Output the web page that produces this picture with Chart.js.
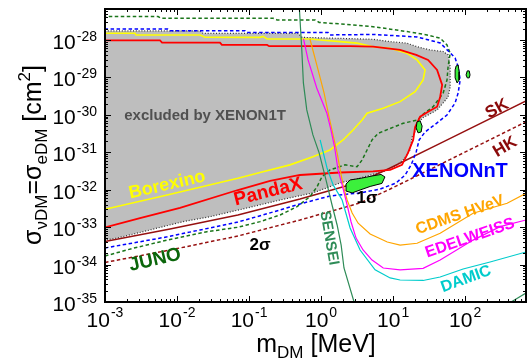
<!DOCTYPE html>
<html>
<head>
<meta charset="utf-8">
<script src="https://cdn.jsdelivr.net/npm/chart.js@4.4.0/dist/chart.umd.min.js"></script>
<style>
  html, body { margin: 0; padding: 0; background: #fff; }
  canvas { display: block; }
</style>
</head>
<body>
<canvas id="chart" width="529" height="359"></canvas>
<script>
let FONT = '"Liberation Sans", Arial, Helvetica, sans-serif';

let xMin = 1e-3, xMax = 700;
let yMin = 1e-35, yMax = 6.7e-28;
let xTickExps = [-3, -2, -1, 0, 1, 2];
let yTickExps = [-28, -29, -30, -31, -32, -33, -34, -35];

// m_DM in MeV, sigma in cm^2
let xenon1tM = [1e-3, 0.021, 0.023, 0.48, 0.545, 1.84, 5.3, 9.1, 15.6, 21.5, 32.7, 49.5, 58, 62, 62, 58, 49.5, 40.8, 30.6, 25.3, 22.2, 18.4, 17.2, 14.2, 11.4, 7.7, 3.5, 1.84, 0.77, 0.27, 0.094, 0.0287, 0.0121, 0.0042, 0.00147, 1e-3];
let xenon1tS = [1.74e-28, 1.74e-28, 1.49e-28, 1.49e-28, 1.17e-28, 1.10e-28, 1.04e-28, 9.0e-29, 8.2e-29, 6.6e-29, 5.4e-29, 4.9e-29, 4.0e-29, 1.9e-29, 5.5e-30, 3.0e-30, 2.07e-30, 1.35e-30, 9.9e-31, 8.2e-31, 5.0e-31, 2.56e-31, 1.15e-31, 6.6e-32, 4.6e-32, 3.16e-32, 2.06e-32, 1.51e-32, 8.2e-33, 5.3e-33, 3.25e-33, 1.9e-33, 1.4e-33, 8.4e-34, 5.1e-34, 4.5e-34];

let pandaxM = [1e-3, 3.06e-3, 1.1e-2, 0.07, 0.196, 0.51, 1.84, 5.27, 9.1, 13.3, 16.1, 19.0, 20.2, 23.7, 30.6, 40.8, 45, 48, 40.8, 30.6, 20.9, 12.5, 5.27, 2.53, 0.19, 0.178, 0.042, 0.0395, 0.0062, 0.0058, 1e-3];
let pandaxS = [9.8e-34, 1.75e-33, 3.25e-33, 9.8e-33, 1.71e-32, 2.47e-32, 2.88e-32, 3.07e-32, 3.37e-32, 4.6e-32, 9.6e-32, 2.13e-31, 4.7e-31, 8.9e-31, 1.21e-30, 1.65e-30, 3.0e-30, 6.3e-30, 1.58e-29, 2.92e-29, 4.0e-29, 5.4e-29, 6.6e-29, 6.8e-29, 6.8e-29, 7.35e-29, 7.35e-29, 8.5e-29, 8.5e-29, 9.7e-29, 9.7e-29];

let borexinoM = [1e-3, 7.3e-3, 0.07, 0.156, 0.37, 0.77, 1.33, 2.02, 2.78, 3.71, 4.35, 7.3, 12.5, 20.2, 26.1, 27.8, 21.5, 15.6, 9.1, 5.27, 3.16, 1.84, 0.97, 0.70, 0.178, 0.156, 0.142, 0.0245, 0.0209, 0.0027, 0.00261, 1e-3];
let borexinoS = [3.0e-33, 7.2e-33, 2.02e-32, 3.03e-32, 4.6e-32, 7.6e-32, 1.15e-31, 2.13e-31, 3.94e-31, 7.3e-31, 1.1e-30, 1.5e-30, 2.25e-30, 4.16e-30, 8.5e-30, 1.58e-29, 2.92e-29, 4.4e-29, 6.0e-29, 6.6e-29, 8.2e-29, 9.0e-29, 1.0e-28, 1.06e-28, 1.06e-28, 1.24e-28, 1.17e-28, 1.18e-28, 1.36e-28, 1.36e-28, 1.51e-28, 1.51e-28];

let junoM = [1e-3, 2.45e-3, 7.3e-3, 0.0261, 0.07, 0.142, 0.27, 0.464, 0.70, 0.88, 1.03, 1.33, 2.15, 3.16, 3.71, 4.35, 5.1, 6.2, 13.8, 22.2, 25.3, 36, 49.5, 56, 58, 62, 56, 45, 29.6, 15.6, 5.27, 1.84, 0.94, 0.83, 0.245, 0.215, 6.0e-3, 5.45e-3, 1e-3];
let junoS = [1.69e-34, 2.72e-34, 4.5e-34, 7.55e-34, 9.9e-34, 1.4e-33, 2.11e-33, 3.52e-33, 6.5e-33, 1.2e-32, 2.23e-32, 3.37e-32, 4.6e-32, 4.1e-32, 6.2e-32, 1.15e-31, 2.13e-31, 3.2e-31, 5.95e-31, 7.3e-31, 9.9e-31, 1.65e-30, 3.77e-30, 8.5e-30, 1.94e-29, 4.4e-29, 7.35e-29, 1.11e-28, 1.36e-28, 1.67e-28, 2.26e-28, 2.67e-28, 2.94e-28, 3.42e-28, 3.42e-28, 3.8e-28, 3.8e-28, 4.2e-28, 4.2e-28];

let xenonntM = [1e-3, 2.45e-3, 7.3e-3, 0.0209, 0.07, 0.156, 0.51, 1.33, 3.48, 6.6, 11.0, 14.7, 17.8, 20.9, 23, 27.8, 40.8, 56, 72.6, 80, 85.3, 80, 72.6, 62, 45, 21.5, 5.27, 1.33, 1.25, 0.094, 0.088, 8.0e-3, 7.5e-3, 1e-3];
let xenonntS = [2.77e-34, 3.77e-34, 5.5e-34, 8.4e-34, 1.37e-33, 2.11e-33, 4.15e-33, 6.8e-33, 8.2e-33, 1.04e-32, 1.51e-32, 2.47e-32, 4.6e-32, 1.02e-31, 2.13e-31, 3.48e-31, 6.1e-31, 9.9e-31, 2.07e-30, 3.84e-30, 8.5e-30, 1.9e-29, 3.3e-29, 4.5e-29, 8.3e-29, 1.2e-28, 1.4e-28, 1.36e-28, 1.57e-28, 1.57e-28, 1.77e-28, 1.77e-28, 1.97e-28, 1.97e-28];

let skM = [1e-3, 8.0e-3, 0.07, 0.51, 3.48, 9.1, 45, 700];
let skS = [4.1e-34, 8.9e-34, 2.11e-33, 5.65e-33, 1.61e-32, 3.8e-32, 1.72e-31, 2.35e-30];
let hkM = [1e-3, 8.0e-3, 0.07, 0.51, 3.48, 9.1, 45, 700];
let hkS = [1.14e-34, 2.45e-34, 5.8e-34, 1.55e-33, 4.42e-33, 1.04e-32, 4.72e-32, 6.5e-31];

let senseiM = [0.50, 0.54, 0.568, 0.633, 0.77, 0.94, 1.17, 1.42, 1.67, 1.90, 2.08, 2.87];
let senseiS = [6.7e-28, 5.4e-29, 7.1e-30, 1.35e-30, 2.9e-31, 9.6e-32, 1.82e-32, 3.9e-33, 1.14e-33, 3.3e-34, 8.1e-35, 1.0e-35];
let senseiHighM = [435, 700];
let senseiHighS = [1.0e-35, 1.74e-35];

let edelweissM = [0.57, 0.66, 0.87, 1.2, 1.38, 1.54, 1.72, 1.96, 2.3, 2.61, 3.06, 3.83, 5.1, 7.3, 12.5, 26.1, 45, 129, 306, 700];
let edelweissS = [1.06e-28, 2.92e-29, 5.2e-30, 1.12e-30, 3.7e-31, 1.38e-31, 3.37e-32, 1.34e-32, 3.9e-33, 1.37e-33, 5.1e-34, 2.45e-34, 1.32e-34, 8.1e-35, 7.2e-35, 7.9e-35, 1.32e-34, 4.5e-34, 1.03e-33, 1.55e-33];

let cdmsM = [0.70, 0.85, 1.1, 1.29, 1.52, 1.67, 1.84, 2.02, 2.3, 2.7, 3.27, 4.8, 8.3, 12.5, 21.5, 45, 129, 383, 700];
let cdmsS = [1.06e-28, 2.58e-29, 3.84e-30, 8.8e-31, 2.13e-31, 9.6e-32, 3.37e-32, 1.34e-32, 5.3e-33, 2.39e-33, 1.27e-33, 6.56e-34, 4.0e-34, 3.3e-34, 3.7e-34, 6.85e-34, 2.34e-33, 4.34e-33, 8.0e-33];

let damicM = [0.97, 1.21, 1.47, 1.96, 2.53, 3.48, 5.62, 9.1, 12.5, 26.1, 45, 93.8, 222, 700];
let damicS = [2.13e-31, 3.8e-32, 1.34e-32, 5.3e-33, 9.5e-34, 2.45e-34, 7.2e-35, 4.4e-35, 3.87e-35, 3.76e-35, 4.66e-35, 7.6e-35, 1.17e-34, 2.17e-34];

// 1 sigma islands
let blobAM = [2.22, 2.53, 3.48, 5.1, 6.8, 7.7, 7.0, 4.8, 3.48, 2.7, 2.22];
let blobAS = [1.42e-32, 1.82e-32, 2.0e-32, 2.32e-32, 2.55e-32, 2.19e-32, 1.47e-32, 1.22e-32, 9.8e-33, 8.2e-33, 9.2e-33];
let blobBM = [21.5, 23.7, 25.3, 24.5, 22.2, 20.9];
let blobBS = [6.5e-31, 6.9e-31, 5.0e-31, 3.48e-31, 3.3e-31, 4.46e-31];
let blobCM = [75, 80, 82.6, 82.6, 77.4, 72.6, 72.6];
let blobCS = [2.02e-29, 2.15e-29, 1.4e-29, 8.5e-30, 7.1e-30, 9.7e-30, 1.58e-29];
let blobDM = [107, 114, 117, 114, 107, 103];
let blobDS = [1.49e-29, 1.49e-29, 1.16e-29, 9.7e-30, 9.7e-30, 1.16e-29];

// text labels placed in data coordinates
let notes = [
    {text: 'excluded by XENON1T', m: 0.0245, s: 9.3e-31, color: '#505050', size: 15, rot: 0},
    {text: 'Borexino', m: 7.3e-3, s: 1.34e-32, color: '#ffff00', size: 18, rot: -13},
    {text: 'PandaX', m: 0.184, s: 8.7e-33, color: '#ff0000', size: 19, rot: -14},
    {text: 'XENONnT', m: 85, s: 2.97e-32, color: '#0000ff', size: 20, rot: 0},
    {text: 'SK', m: 278, s: 1.43e-30, color: '#8b0a0a', size: 17, rot: -29},
    {text: 'HK', m: 359, s: 1.38e-31, color: '#8b0a0a', size: 17, rot: -31},
    {text: 'SENSEI', m: 1.29, s: 5.1e-34, color: '#2e8b57', size: 15, rot: 80},
    {text: '1σ', m: 4.35, s: 6.0e-33, color: '#000000', size: 17, rot: 0},
    {text: '2σ', m: 0.142, s: 3.3e-34, color: '#000000', size: 17, rot: 0},
    {text: 'JUNO', m: 4.95e-3, s: 1.32e-34, color: '#0b660b', size: 19, rot: -13},
    {text: 'CDMS HVeV', m: 85, s: 2.11e-33, color: '#ffa500', size: 16, rot: -19},
    {text: 'EDELWEISS', m: 117, s: 5.1e-34, color: '#ff00ff', size: 16, rot: -19},
    {text: 'DAMIC', m: 103, s: 4.1e-35, color: '#00cccc', size: 16, rot: -20}
];

function pts(ms, ss) {
    return ms.map((m, i) => ({x: m, y: ss[i]}));
}
function loop(ms, ss) {
    let p = pts(ms, ss);
    p.push(p[0]);
    return p;
}
function curve(data, color, width, dash, order) {
    return {
        data: data, borderColor: color, borderWidth: width, borderDash: dash || [],
        fill: false, pointRadius: 0, tension: 0, order: order === undefined ? 5 : order
    };
}
function island(ms, ss) {
    let d = curve(loop(ms, ss), '#000', 1, [], 0);
    d.fill = 'shape';
    d.backgroundColor = '#3cf03c';
    return d;
}

let xenon1t = curve(pts(xenon1tM, xenon1tS), '#333', 1.2, [1, 1.8], 10);
xenon1t.fill = 'shape';
xenon1t.backgroundColor = '#bebebe';

let dashed = [3.5, 2.5];
let datasets = [
    island(blobAM, blobAS),
    island(blobBM, blobBS),
    island(blobCM, blobCS),
    island(blobDM, blobDS),
    curve(pts(senseiM, senseiS), '#2e8b57', 1.2),
    curve(pts(senseiHighM, senseiHighS), '#2e8b57', 1.2),
    curve(pts(edelweissM, edelweissS), '#ff00ff', 1.2),
    curve(pts(cdmsM, cdmsS), '#ffa500', 1.2),
    curve(pts(damicM, damicS), '#00cccc', 1.2),
    curve(pts(pandaxM, pandaxS), '#ff0000', 1.8),
    curve(pts(xenonntM, xenonntS), '#0000ff', 1.5, dashed),
    curve(pts(junoM, junoS), '#1a751a', 1.5, dashed),
    curve(pts(skM, skS), '#961010', 1.5),
    curve(pts(hkM, hkS), '#961010', 1.5, dashed),
    curve(pts(borexinoM, borexinoS), '#ffff00', 1.6),
    xenon1t
];

function drawPow(ctx, e, x, y, align, raise) {
    ctx.font = '21px ' + FONT;
    let w1 = ctx.measureText('10').width;
    ctx.font = '14px ' + FONT;
    let es = String(e);
    let w2 = ctx.measureText(es).width;
    let left = align === 'right' ? x - w1 - w2 - 1 : x - (w1 + w2 + 1) / 2;
    ctx.font = '21px ' + FONT;
    ctx.fillText('10', left, y);
    ctx.font = '14px ' + FONT;
    ctx.fillText(es, left + w1 + 1, y - raise);
}

function drawRich(ctx, parts, x, y, rot) {
    ctx.save();
    ctx.translate(x, y);
    ctx.rotate(rot);
    let total = 0;
    for (let p of parts) {
        ctx.font = p[1] + 'px ' + FONT;
        total += ctx.measureText(p[0]).width;
    }
    let cx = -total / 2;
    for (let p of parts) {
        ctx.font = p[1] + 'px ' + FONT;
        ctx.fillText(p[0], cx, p[2]);
        cx += ctx.measureText(p[0]).width;
    }
    ctx.restore();
}

let decor = {
    id: 'decor',
    afterDatasetsDraw(chart) {
        let ctx = chart.ctx, xs = chart.scales.x, ys = chart.scales.y;
        ctx.save();
        ctx.textAlign = 'center';
        ctx.textBaseline = 'middle';
        for (let n of notes) {
            ctx.save();
            ctx.translate(xs.getPixelForValue(n.m), ys.getPixelForValue(n.s));
            ctx.rotate(n.rot * Math.PI / 180);
            ctx.font = 'bold ' + n.size + 'px ' + FONT;
            ctx.fillStyle = n.color;
            ctx.fillText(n.text, 0, 0);
            ctx.restore();
        }
        ctx.restore();
    },
    afterDraw(chart) {
        let ctx = chart.ctx, ca = chart.chartArea, xs = chart.scales.x, ys = chart.scales.y;
        ctx.save();
        ctx.strokeStyle = '#000';
        ctx.lineWidth = 1;
        ctx.beginPath();
        for (let e = -3; e <= 2; e++) {
            for (let k = 1; k <= 9; k++) {
                let v = k * Math.pow(10, e);
                if (v > xMax) continue;
                let px = Math.round(xs.getPixelForValue(v)) + 0.5;
                let len = k === 1 ? 6 : 3;
                ctx.moveTo(px, ca.bottom); ctx.lineTo(px, ca.bottom - len);
                ctx.moveTo(px, ca.top); ctx.lineTo(px, ca.top + len);
            }
        }
        for (let e = -35; e <= -28; e++) {
            for (let k = 1; k <= 9; k++) {
                let v = k * Math.pow(10, e);
                if (v > yMax) continue;
                let py = Math.round(ys.getPixelForValue(v)) + 0.5;
                let len = k === 1 ? 6 : 3;
                ctx.moveTo(ca.left, py); ctx.lineTo(ca.left + len, py);
                ctx.moveTo(ca.right, py); ctx.lineTo(ca.right - len, py);
            }
        }
        ctx.stroke();
        ctx.lineWidth = 2;
        ctx.strokeRect(ca.left, ca.top, ca.right - ca.left, ca.bottom - ca.top);

        ctx.fillStyle = '#000';
        ctx.textAlign = 'left';
        ctx.textBaseline = 'alphabetic';
        for (let e of xTickExps) {
            drawPow(ctx, e, xs.getPixelForValue(Math.pow(10, e)), ca.bottom + 25, 'center', 10);
        }
        for (let e of yTickExps) {
            drawPow(ctx, e, 97, ys.getPixelForValue(Math.pow(10, e)) + 9, 'right', 8);
        }

        drawRich(ctx, [['m', 25, 0], ['DM', 17, 6], [' [MeV]', 25, 0]], 316, 352, 0);
        drawRich(ctx, [['σ', 25, 0], ['νDM', 17, 6], ['=σ', 25, 0], ['eDM', 17, 6],
                       [' [cm', 25, 0], ['2', 17, -11], [']', 25, 0]], 41, 155, -Math.PI / 2);
        ctx.restore();
    }
};

new Chart(document.getElementById('chart'), {
    type: 'line',
    data: {datasets: datasets},
    options: {
        responsive: false,
        animation: false,
        devicePixelRatio: 1,
        layout: {padding: {left: 105, right: 3, top: 9, bottom: 57}},
        plugins: {legend: {display: false}, tooltip: {enabled: false}},
        scales: {
            x: {type: 'logarithmic', min: xMin, max: xMax, display: false},
            y: {type: 'logarithmic', min: yMin, max: yMax, display: false}
        }
    },
    plugins: [decor]
});
</script>
</body>
</html>
